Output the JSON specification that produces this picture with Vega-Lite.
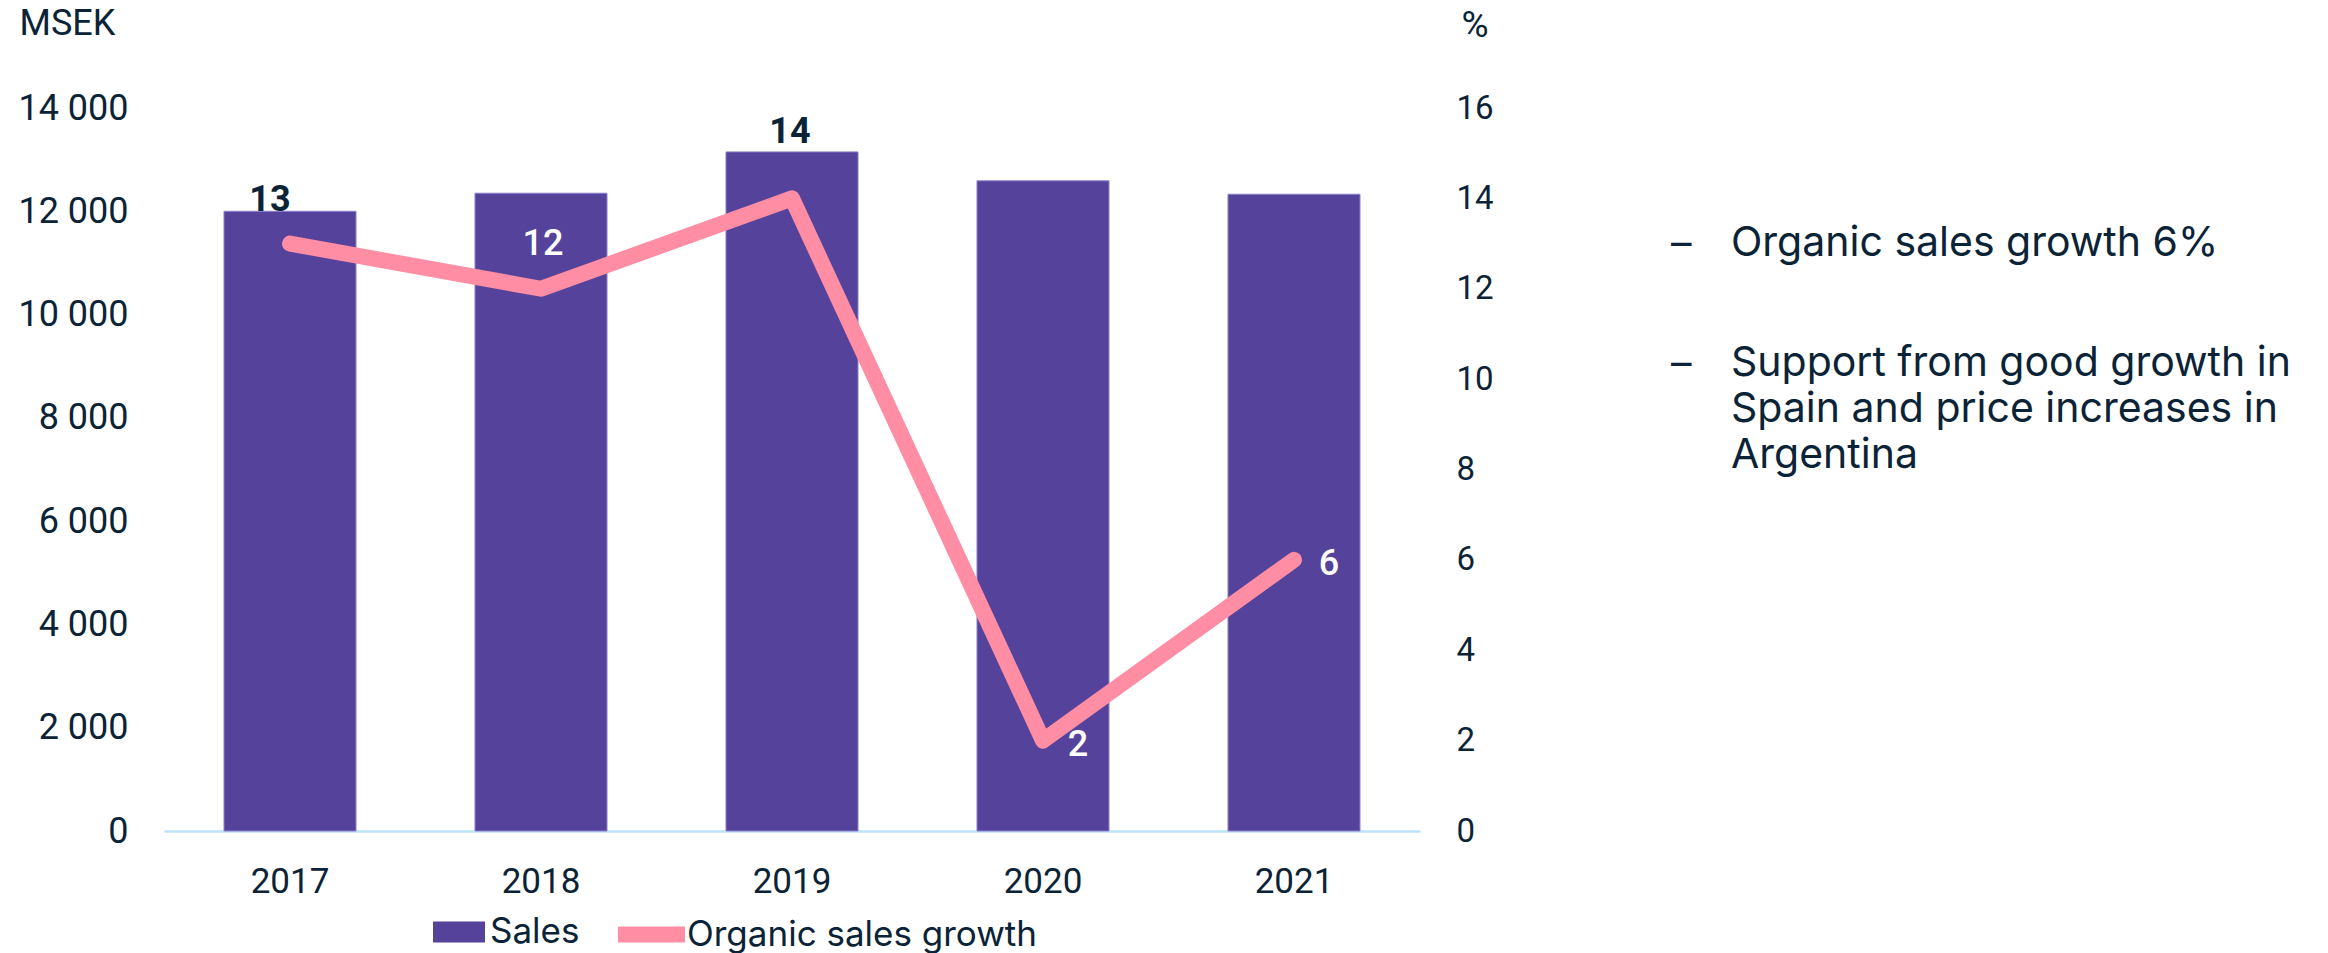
{
  "$schema": "https://vega.github.io/schema/vega-lite/v6.json",
  "background": "white",
  "padding": {"left": 17, "top": 5, "right": 0, "bottom": 0},
  "spacing": 177,
  "config": {
    "font": "Roboto",
    "view": {"stroke": null},
    "axis": {"labelColor": "#0b2336", "titleColor": "#0b2336", "labelFont": "Roboto", "titleFont": "Roboto"},
    "legend": {"labelColor": "#0b2336", "labelFont": "Inter", "labelLimit": 0}
  },
  "hconcat": [
    {
      "width": 1256,
      "height": 723,
      "data": {
        "values": [
          {"year": "2017", "sales": 12000, "growth": 13},
          {"year": "2018", "sales": 12350, "growth": 12},
          {"year": "2019", "sales": 13150, "growth": 14},
          {"year": "2020", "sales": 12590, "growth": 2},
          {"year": "2021", "sales": 12330, "growth": 6}
        ]
      },
      "encoding": {
        "x": {
          "field": "year",
          "type": "ordinal",
          "scale": {"paddingInner": 0.474, "paddingOuter": 0.239},
          "axis": {
            "title": null,
            "labelAngle": 0,
            "ticks": false,
            "grid": false,
            "domainColor": "#bde3f8",
            "domainWidth": 2.5,
            "labelPadding": 33,
            "labelFontSize": 35
          }
        }
      },
      "layer": [
        {
          "mark": {"type": "bar", "stroke": "#8c80cc", "strokeWidth": 1},
          "encoding": {
            "y": {
              "field": "sales",
              "type": "quantitative",
              "scale": {"domain": [0, 14000], "nice": false},
              "axis": {
                "orient": "left",
                "values": [0, 2000, 4000, 6000, 8000, 10000, 12000, 14000],
                "labelExpr": "replace(format(datum.value, ','), ',', ' ')",
                "domain": false,
                "ticks": false,
                "grid": false,
                "labelPadding": 36,
                "labelFontSize": 36,
                "title": "MSEK",
                "titleAngle": 0,
                "titleX": -145,
                "titleY": -85,
                "titleAlign": "left",
                "titleBaseline": "middle",
                "titleFontSize": 36,
                "titleFontWeight": "normal"
              }
            },
            "fill": {
              "datum": "Sales",
              "type": "nominal",
              "scale": {"range": ["#55439b"]},
              "legend": {
                "orient": "none",
                "legendX": 269,
                "legendY": 798,
                "title": null,
                "symbolType": "M-1,-0.4H1V0.4H-1Z",
                "symbolSize": 2704,
                "symbolStrokeWidth": 0,
                "labelFontSize": 35,
                "labelOffset": 5
              }
            }
          }
        },
        {
          "encoding": {
            "y": {
              "field": "growth",
              "type": "quantitative",
              "scale": {"domain": [0, 16], "nice": false},
              "axis": {
                "orient": "right",
                "values": [0, 2, 4, 6, 8, 10, 12, 14, 16],
                "domain": false,
                "ticks": false,
                "grid": false,
                "labelAlign": "left",
                "labelPadding": 36,
                "labelFontSize": 33,
                "title": "%",
                "titleAngle": 0,
                "titleX": 41,
                "titleY": -83,
                "titleAlign": "left",
                "titleBaseline": "middle",
                "titleFontSize": 37,
                "titleFontWeight": "normal"
              }
            }
          },
          "layer": [
            {
              "mark": {"type": "line", "strokeWidth": 16, "strokeCap": "round", "strokeJoin": "round"},
              "encoding": {
                "stroke": {
                  "datum": "Organic sales growth",
                  "type": "nominal",
                  "scale": {"range": ["#ff8da3"]},
                  "legend": {
                    "orient": "none",
                    "legendX": 446,
                    "legendY": 785,
                    "title": null,
                    "symbolType": "stroke",
                    "symbolSize": 4489,
                    "symbolStrokeWidth": 16,
                    "labelFontSize": 35,
                    "labelOffset": -6
                  }
                }
              }
            },
            {
              "transform": [{"filter": "datum.year === '2017'"}],
              "mark": {"type": "text", "dx": -20, "dy": -44, "fontSize": 36, "fontWeight": "bold", "color": "#0b2336", "baseline": "middle"},
              "encoding": {"text": {"field": "growth", "type": "quantitative"}}
            },
            {
              "transform": [{"filter": "datum.year === '2019'"}],
              "mark": {"type": "text", "dx": -2, "dy": -66, "fontSize": 36, "fontWeight": "bold", "color": "#0b2336", "baseline": "middle"},
              "encoding": {"text": {"field": "growth", "type": "quantitative"}}
            },
            {
              "transform": [{"filter": "datum.year === '2018'"}],
              "mark": {"type": "text", "dx": 2, "dy": -45, "fontSize": 36, "fontWeight": 500, "color": "#ffffff", "baseline": "middle"},
              "encoding": {"text": {"field": "growth", "type": "quantitative"}}
            },
            {
              "transform": [{"filter": "datum.year === '2020' || datum.year === '2021'"}],
              "mark": {"type": "text", "dx": 35, "dy": 4, "fontSize": 36, "fontWeight": 500, "color": "#ffffff", "baseline": "middle"},
              "encoding": {"text": {"field": "growth", "type": "quantitative"}}
            }
          ]
        }
      ],
      "resolve": {"scale": {"y": "independent"}}
    },
    {
      "width": 620,
      "height": 723,
      "data": {
        "values": [
          {"item": 1, "text": "Organic sales growth 6%"},
          {"item": 2, "text": "Support from good growth in\nSpain and price increases in\nArgentina"}
        ]
      },
      "encoding": {
        "x": {"datum": 0, "type": "quantitative", "scale": {"domain": [0, 1]}, "axis": null},
        "y": {"field": "item", "type": "quantitative", "scale": {"domain": [0, 6], "reverse": true}, "axis": null}
      },
      "layer": [
        {
          "mark": {"type": "text", "text": "–", "align": "left", "baseline": "top", "dy": -4, "font": "Inter", "fontSize": 41, "color": "#0b2336"}
        },
        {
          "mark": {"type": "text", "align": "left", "baseline": "top", "dx": 60, "dy": -5, "font": "Inter", "fontSize": 41, "lineBreak": "\n", "lineHeight": 46, "color": "#0b2336"},
          "encoding": {"text": {"field": "text", "type": "nominal"}}
        }
      ]
    }
  ]
}
